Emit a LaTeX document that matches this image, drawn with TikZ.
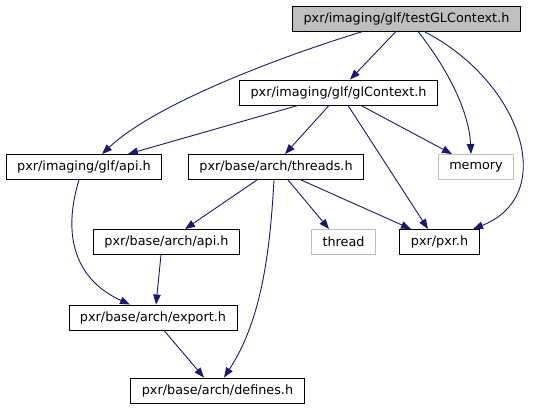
\documentclass[tikz,border=0pt]{standalone}
\usepackage{fontspec}
\setmainfont{DejaVu Sans}
\usetikzlibrary{arrows.meta}
\definecolor{edgeblue}{HTML}{191970}
\definecolor{boxgrey}{HTML}{BFBFBF}

\begin{document}
\begin{tikzpicture}[x=1pt,y=-1pt,
    hdr/.style={draw=black,line width=0.9pt,minimum height=25pt,inner xsep=11pt,
                inner ysep=0pt,font=\fontsize{12.8}{15}\selectfont},
    sys/.style={hdr,draw=boxgrey},
    inc/.style={edgeblue,line width=0.9pt,-{Triangle[length=10pt,width=7.5pt]}}]
    \useasboundingbox (0,0) rectangle (536,411);

    \node[hdr,fill=boxgrey] (testgl) at (406.5,18.5) {pxr/imaging/glf/testGLContext.h};
    \node[hdr] (glctx) at (338.5,92.5) {pxr/imaging/glf/glContext.h};
    \node[hdr] (glfapi) at (84,167) {pxr/imaging/glf/api.h};
    \node[hdr] (threads) at (276,167) {pxr/base/arch/threads.h};
    \node[sys] (memory) at (476,167) {memory};
    \node[hdr] (archapi) at (166.5,242) {pxr/base/arch/api.h};
    \node[sys] (thread) at (343.5,242) {thread};
    \node[hdr] (pxr) at (439.5,242) {pxr/pxr.h};
    \node[hdr] (export) at (153,317.5) {pxr/base/arch/export.h};
    \node[hdr] (defines) at (217.5,390.5) {pxr/base/arch/defines.h};

    \draw[inc] ([xshift=-10.5pt]testgl.south) -- ([xshift=11.5pt]glctx.north);
    \draw[inc] ([xshift=-43.5pt]testgl.south) .. controls +(-63,19) and +(58,-54.5) .. ([xshift=18pt]glfapi.north);
    \draw[inc] ([xshift=11.5pt]testgl.south) .. controls +(27,34) and +(-2,-45) .. ([xshift=-5pt]memory.north);
    \draw[inc] ([xshift=17.5pt]testgl.south) .. controls +(96,49) and +(87,-34.5) .. ([xshift=33.5pt]pxr.north);

    \draw[inc] ([xshift=-40.5pt]glctx.south) -- ([xshift=44pt]glfapi.north);
    \draw[inc] ([xshift=-9.5pt]glctx.south) -- ([xshift=9pt]threads.north);
    \draw[inc] ([xshift=22.5pt]glctx.south) -- ([xshift=-24pt]memory.north);
    \draw[inc] ([xshift=9.5pt]glctx.south) -- ([xshift=-11.5pt]pxr.north);

    \draw[inc] ([xshift=-19pt]threads.south) -- ([xshift=18.5pt]archapi.north);
    \draw[inc] ([xshift=12pt]threads.south) -- ([xshift=-14.5pt]thread.north);
    \draw[inc] ([xshift=25pt]threads.south) -- ([xshift=-28.5pt]pxr.north);
    \draw[inc] ([xshift=-2pt]threads.south) .. controls +(-4,70.5) and +(38,-58) .. ([xshift=6.5pt]defines.north);

    \draw[inc] ([xshift=-5pt]glfapi.south) .. controls +(-17,55.5) and +(-55,-25) .. ([xshift=-23pt]export.north);
    \draw[inc] ([xshift=-5.5pt]archapi.south) -- ([xshift=3pt]export.north);
    \draw[inc] ([xshift=11pt]export.south) -- ([xshift=-13.5pt]defines.north);
\end{tikzpicture}
\end{document}
